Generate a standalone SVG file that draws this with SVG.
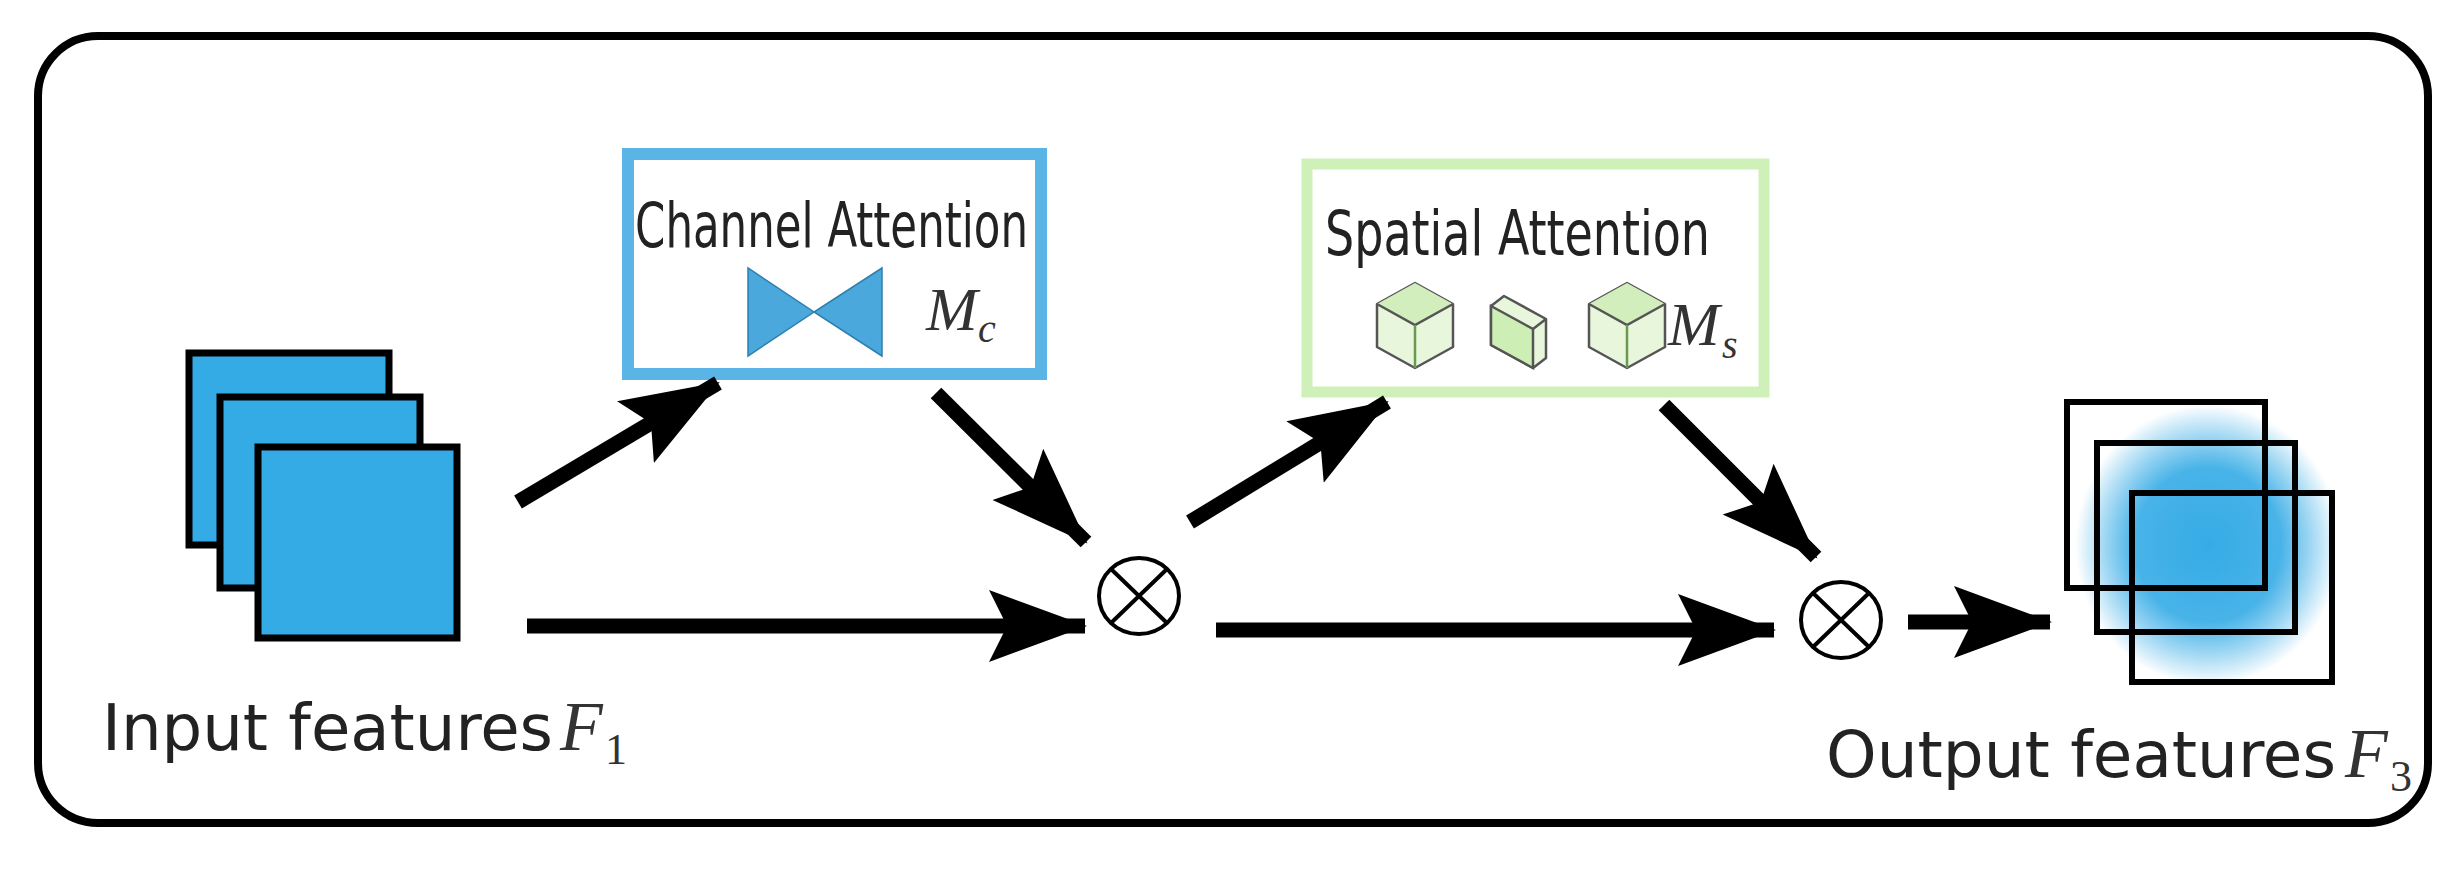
<svg xmlns="http://www.w3.org/2000/svg" width="2459" height="878" viewBox="0 0 2459 878">
<style>
.lbl{font-family:"DejaVu Sans Condensed","DejaVu Sans",sans-serif;fill:#222}
.math{font-family:"Liberation Serif",serif;font-style:italic;fill:#333}
.sub{font-family:"Liberation Serif",serif;fill:#333}
.conn{stroke:#000;stroke-width:15;fill:none;marker-end:url(#ah)}
.sq{fill:#35abe6;stroke:#000;stroke-width:7}
.osq{fill:none;stroke:#000;stroke-width:6}
.cube{fill:#e8f7dc;stroke:#555;stroke-width:2.5;stroke-linejoin:round}
.otimes{fill:none;stroke:#000;stroke-width:4}
</style>
<defs>
<marker id="ah" markerUnits="userSpaceOnUse" viewBox="0 0 100 80" markerWidth="100" markerHeight="80" refX="96" refY="40" orient="auto">
<path d="M0,4 L98,40 L0,76 L18,40 z" fill="#000"/>
</marker>
<radialGradient id="blur" cx="0.52" cy="0.5" r="0.5">
<stop offset="0" stop-color="#35abe6"/>
<stop offset="0.55" stop-color="#48b3e8"/>
<stop offset="1" stop-color="#35abe6" stop-opacity="0"/>
</radialGradient>
</defs>
<rect width="2459" height="878" fill="#fff"/>
<rect id="frame" x="38" y="36" width="2390" height="787" rx="60" fill="none" stroke="#000" stroke-width="8"/>

<g id="input">
<rect class="sq" x="189" y="353" width="200" height="192"/>
<rect class="sq" x="220" y="397" width="200" height="191"/>
<rect class="sq" x="258" y="447" width="199" height="191"/>
<text class="lbl" x="102" y="750" font-size="64" textLength="451" lengthAdjust="spacingAndGlyphs">Input features</text>
<text class="math" x="560" y="750" font-size="70">F</text>
<text class="sub" x="605" y="764" font-size="44">1</text>
</g>

<g id="channel">
<rect x="628" y="154" width="413" height="220" fill="#fff" stroke="#5ab4e5" stroke-width="12"/>
<text class="lbl" x="635" y="247" font-size="62" textLength="393" lengthAdjust="spacingAndGlyphs">Channel Attention</text>
<path d="M748,268 L748,356 L814,312 z M882,268 L882,356 L814,312 z" fill="#4aa8dd" stroke="#2d7fae" stroke-width="1.5"/>
<text class="math" x="926" y="330" font-size="62">M</text>
<text class="math" x="978" y="342" font-size="40">c</text>
</g>

<g id="spatial">
<rect x="1307" y="164" width="457" height="228" fill="#fff" stroke="#cff0b8" stroke-width="11"/>
<text class="lbl" x="1325" y="255" font-size="62" textLength="385" lengthAdjust="spacingAndGlyphs">Spatial Attention</text>
<g>
<path class="cube" d="M1415,283 L1453,304 L1453,347 L1415,368 L1377,347 L1377,304 z"/>
<path d="M1415,283 L1453,304 L1415,325 L1377,304 z" fill="#d2eebd"/>
<path d="M1377,304 L1415,325 L1453,304" stroke="#555" stroke-width="2.5" fill="none"/>
<path d="M1415,325 L1415,368" stroke="#6a9a50" stroke-width="2.5"/>
</g>
<g>
<path class="cube" d="M1491,306 L1504,296 L1546,319 L1546,358 L1533,368 L1491,345 z"/>
<path d="M1491,306 L1533,329 L1533,368 L1491,345 z" fill="#cdeeb5" stroke="#555" stroke-width="2.5"/>
<path d="M1533,329 L1546,319" stroke="#555" stroke-width="2.5"/>
</g>
<g>
<path class="cube" d="M1627,283 L1665,304 L1665,347 L1627,368 L1589,347 L1589,304 z"/>
<path d="M1627,283 L1665,304 L1627,325 L1589,304 z" fill="#d2eebd"/>
<path d="M1589,304 L1627,325 L1665,304" stroke="#555" stroke-width="2.5" fill="none"/>
<path d="M1627,325 L1627,368" stroke="#6a9a50" stroke-width="2.5"/>
</g>
<text class="math" x="1668" y="345" font-size="62">M</text>
<text class="math" x="1722" y="358" font-size="40">s</text>
</g>

<g id="mul1"><ellipse class="otimes" cx="1139" cy="596" rx="40" ry="38"/><path d="M1111,569 L1167,623 M1167,569 L1111,623" stroke="#000" stroke-width="4"/></g>
<g id="mul2"><ellipse class="otimes" cx="1841" cy="620" rx="40" ry="38"/><path d="M1813,593 L1869,647 M1869,593 L1813,647" stroke="#000" stroke-width="4"/></g>

<g id="output">
<rect x="2070" y="405" width="265" height="280" fill="url(#blur)"/>
<rect class="osq" x="2067" y="402" width="198" height="186"/>
<rect class="osq" x="2097" y="443" width="198" height="189"/>
<rect class="osq" x="2132" y="493" width="200" height="189"/>
<text class="lbl" x="1826" y="777" font-size="64" textLength="510" lengthAdjust="spacingAndGlyphs">Output features</text>
<text class="math" x="2345" y="777" font-size="70">F</text>
<text class="sub" x="2390" y="791" font-size="44">3</text>
</g>

<g id="connectors">
<line class="conn" x1="518" y1="502" x2="718" y2="383"/>
<line class="conn" x1="936" y1="393" x2="1086" y2="542"/>
<line class="conn" x1="527" y1="626" x2="1085" y2="626"/>
<line class="conn" x1="1190" y1="522" x2="1387" y2="402"/>
<line class="conn" x1="1664" y1="405" x2="1816" y2="557"/>
<line class="conn" x1="1216" y1="630" x2="1774" y2="630"/>
<line class="conn" x1="1908" y1="622" x2="2050" y2="622"/>
</g>
</svg>
